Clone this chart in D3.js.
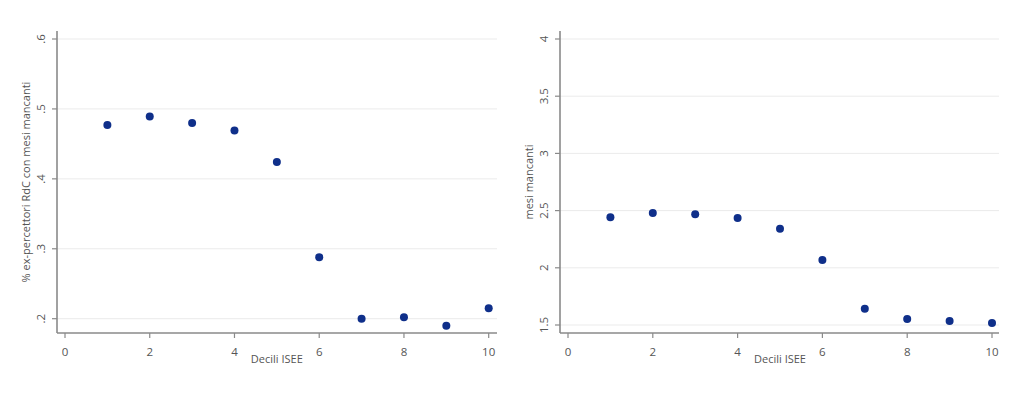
<!DOCTYPE html>
<html lang="it">
<head>
<meta charset="UTF-8"/>
<title>Decili ISEE</title>
<script src="https://d3js.org/d3.v7.min.js"></script>
<style>
  body { margin: 0; background: #fff; }
  text { font-family: "Open Sans", sans-serif; fill: #555; }
  .grid line { stroke: #ebebeb; stroke-width: 1; }
</style>
</head>
<body>
<svg id="chart" width="1024" height="394"></svg>
<script>
// data
var deciles = [1, 2, 3, 4, 5, 6, 7, 8, 9, 10];
var shareMissing = [0.477, 0.489, 0.480, 0.469, 0.424, 0.288, 0.200, 0.202, 0.190, 0.215];
var monthsMissing = [2.441, 2.479, 2.468, 2.435, 2.342, 2.068, 1.643, 1.552, 1.535, 1.517];
var xTicks = [0, 2, 4, 6, 8, 10];
var yTicksLeft = [0.2, 0.3, 0.4, 0.5, 0.6];
var yTickLabelsLeft = [".2", ".3", ".4", ".5", ".6"];
var yTicksRight = [1.5, 2, 2.5, 3, 3.5, 4];
var yTickLabelsRight = ["1.5", "2", "2.5", "3", "3.5", "4"];

var svg = d3.select("#chart");

function panel(p) {
  var g = svg.append("g");
  var x = d3.scaleLinear().domain([0, 10]).range([p.x0, p.x1]);
  var y = d3.scaleLinear().domain(p.yDomain).range([p.yBottom, p.yTop]);

  // gridlines
  g.append("g").attr("class", "grid")
    .selectAll("line").data(p.yTicks).enter().append("line")
    .attr("x1", p.axisX).attr("x2", p.gridEnd)
    .attr("y1", function(d) { return y(d); })
    .attr("y2", function(d) { return y(d); });

  // y axis
  g.append("line")
    .attr("x1", p.axisX).attr("x2", p.axisX)
    .attr("y1", 31).attr("y2", p.axisY)
    .attr("stroke", "#8a8a8a").attr("stroke-width", 1.6);
  g.selectAll(".yt").data(p.yTicks).enter().append("line")
    .attr("x1", p.axisX - 5).attr("x2", p.axisX)
    .attr("y1", function(d) { return y(d); })
    .attr("y2", function(d) { return y(d); })
    .attr("stroke", "#8a8a8a").attr("stroke-width", 1.2);
  g.selectAll(".ytl").data(p.yTicks).enter().append("text")
    .attr("transform", function(d) { return "translate(" + (p.axisX - 12) + "," + y(d) + ") rotate(-90)"; })
    .attr("text-anchor", "middle")
    .style("font-size", "11.5px")
    .text(function(d, i) { return p.yLabels[i]; });
  g.append("text")
    .attr("transform", "translate(" + (p.axisX - 27) + ",182) rotate(-90)")
    .attr("text-anchor", "middle")
    .style("font-size", "11px")
    .text(p.yTitle);

  // x axis
  g.append("line")
    .attr("x1", p.axisX).attr("x2", p.gridEnd)
    .attr("y1", p.axisY).attr("y2", p.axisY)
    .attr("stroke", "#8a8a8a").attr("stroke-width", 1.6);
  g.selectAll(".xt").data(xTicks).enter().append("line")
    .attr("x1", function(d) { return x(d); })
    .attr("x2", function(d) { return x(d); })
    .attr("y1", p.axisY).attr("y2", p.axisY + 5)
    .attr("stroke", "#8a8a8a").attr("stroke-width", 1.2);
  g.selectAll(".xtl").data(xTicks).enter().append("text")
    .attr("x", function(d) { return x(d); })
    .attr("y", p.axisY + 23)
    .attr("text-anchor", "middle")
    .style("font-size", "11.5px")
    .text(function(d) { return d; });
  g.append("text")
    .attr("x", (p.x0 + p.x1) / 2)
    .attr("y", p.axisY + 30)
    .attr("text-anchor", "middle")
    .style("font-size", "11px")
    .text("Decili ISEE");

  // points
  g.selectAll("circle").data(p.values).enter().append("circle")
    .attr("cx", function(d, i) { return x(deciles[i]); })
    .attr("cy", function(d) { return y(d); })
    .attr("r", 4)
    .attr("fill", "#0f2f8a");
}

panel({
  x0: 65, x1: 488.7, axisX: 57, axisY: 333, gridEnd: 497,
  yDomain: [0.2, 0.6], yTop: 39, yBottom: 318.7,
  yTicks: yTicksLeft, yLabels: yTickLabelsLeft,
  yTitle: "% ex-percettori RdC con mesi mancanti",
  values: shareMissing
});

panel({
  x0: 568, x1: 992, axisX: 560, axisY: 333, gridEnd: 999,
  yDomain: [1.5, 4], yTop: 39, yBottom: 325,
  yTicks: yTicksRight, yLabels: yTickLabelsRight,
  yTitle: "mesi mancanti",
  values: monthsMissing
});
</script>
</body>
</html>
